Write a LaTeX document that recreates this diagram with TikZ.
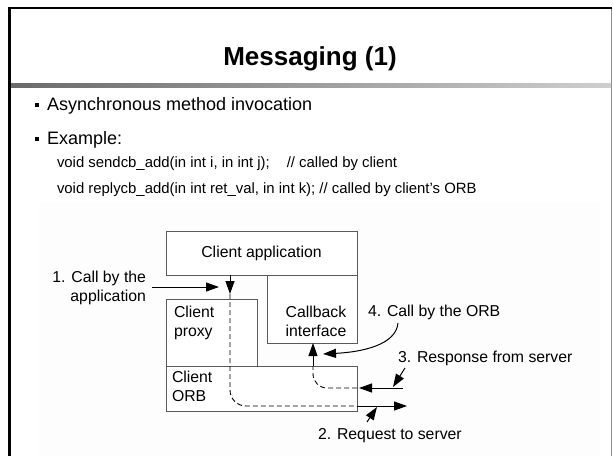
\documentclass[tikz,border=0pt]{standalone}
\usepackage{fontspec}
\setmainfont{Liberation Sans}
\usetikzlibrary{arrows.meta}
\definecolor{framegray}{HTML}{8C8C8C}
\definecolor{boxline}{HTML}{5A5A5A}
\definecolor{barleft}{HTML}{6A6A6A}
\definecolor{barright}{HTML}{CFCFCF}
\definecolor{imgback}{HTML}{FDFDFD}

\begin{document}
\begin{tikzpicture}[
    x=1pt, y=-1pt,
    every node/.style={
        inner sep=0pt,
        outer sep=0pt
    },
    heading/.style={
        font=\fontsize{26}{30}\selectfont\bfseries,
        anchor=base
    },
    bullet/.style={
        font=\fontsize{18}{21}\selectfont,
        anchor=base west
    },
    code/.style={
        font=\fontsize{14.9}{18}\selectfont,
        anchor=base west
    },
    bulletbox/.style={
        rectangle,
        fill=black,
        minimum size=4pt
    },
    block/.style={
        rectangle,
        draw=boxline,
        line width=1pt,
        fill=white,
        font=\fontsize{15.8}{18.5}\selectfont
    },
    diagtext/.style={
        font=\fontsize{15.8}{18.5}\selectfont
    },
    arrow/.style={
        -{Triangle[length=13pt,width=9pt]},
        line width=1pt,
        color=black
    },
    flow/.style={
        dashed,
        dash pattern=on 5pt off 3pt,
        line width=0.9pt,
        color=black
    }
]
\useasboundingbox (0,0) rectangle (613,456);

% slide frame
\fill[imgback] (39,203) rectangle (600,456);
\draw[framegray, line width=1.5pt] (611.5,8) -- (611.5,456);
\draw[line width=2pt] (9,8) -- (612,8);
\draw[line width=3pt] (9.5,7) -- (9.5,456);
\shade[left color=barleft, right color=barright] (11,83) rectangle (611,87);

% title and bullets
\node[heading] (title) at (310,65) {Messaging (1)};
\node[bulletbox] (dot1) at (37,104.5) {};
\node[bullet] (item1) at (47,110) {Asynchronous method invocation};
\node[bulletbox] (dot2) at (37,138.5) {};
\node[bullet] (item2) at (47,144) {Example:};
\node[code] (code1) at (57,167) {void sendcb\_add(in int i, in int j);\hspace{17pt}// called by client};
\node[code] (code2) at (57,193) {void replycb\_add(in int ret\_val, in int k); // called by client’s ORB};

% boxes
\node[block, minimum width=191pt, minimum height=44pt] (app) at (261.5,253) {Client application};
\node[block, minimum width=90pt, minimum height=68pt] (callback) at (312,309) {};
\node[block, minimum width=91pt, minimum height=67pt] (proxy) at (211.5,332.5) {};
\node[block, minimum width=191pt, minimum height=45pt] (orb) at (261.5,388.5) {};

\node[diagtext, align=center, anchor=north] (cbtext) at (316,306.5) {Callback\\interface};
\node[diagtext, align=left, anchor=north west] (pxtext) at (174,306.5) {Client\\proxy};
\node[diagtext, align=left, anchor=north west] (orbtext) at (172,371.5) {Client\\ORB};

% labels
\node[diagtext, align=right, anchor=north east] (call1) at (146,271.5) {1. Call by the\\application};
\node[diagtext, anchor=north west] (call4) at (368,305.5) {4. Call by the ORB};
\node[diagtext, anchor=north west] (resp) at (398,351.5) {3. Response from server};
\node[diagtext, anchor=north west] (req) at (318,428.5) {2. Request to server};

% request
\coordinate (rq) at (230,294);
\coordinate (rqy) at (0,406);
\coordinate (rqout) at (407,406);
\draw[arrow] (app.south -| rq) -- (rq);
\draw[flow, rounded corners=16pt] (rq) |- (orb.east |- rqy);
\draw[arrow] (orb.east |- rqy) -- (rqout);

% response
\coordinate (rsin) at (403,388);
\coordinate (rsx) at (313,0);
\draw[arrow] (rsin) -- ([xshift=2pt]orb.east |- rsin);
\draw[flow, rounded corners=14pt] (orb.east |- rsin) -| (orb.north -| rsx);
\draw[arrow] (orb.north -| rsx) -- (callback.south -| rsx);

% pointers
\coordinate (c1from) at (152,287);
\coordinate (c1to) at (219,287);
\draw[arrow] (c1from) -- (c1to);
\coordinate (c4from) at (398,323);
\coordinate (c4to) at (323,354);
\draw[arrow] (c4from) .. controls (396,345) and (362,352) .. (c4to);
\coordinate (p3from) at (405,368);
\coordinate (p3to) at (393,387);
\draw[arrow] (p3from) -- (p3to);
\coordinate (p2from) at (367,422);
\coordinate (p2to) at (377,407);
\draw[arrow] (p2from) -- (p2to);

\end{tikzpicture}
\end{document}
